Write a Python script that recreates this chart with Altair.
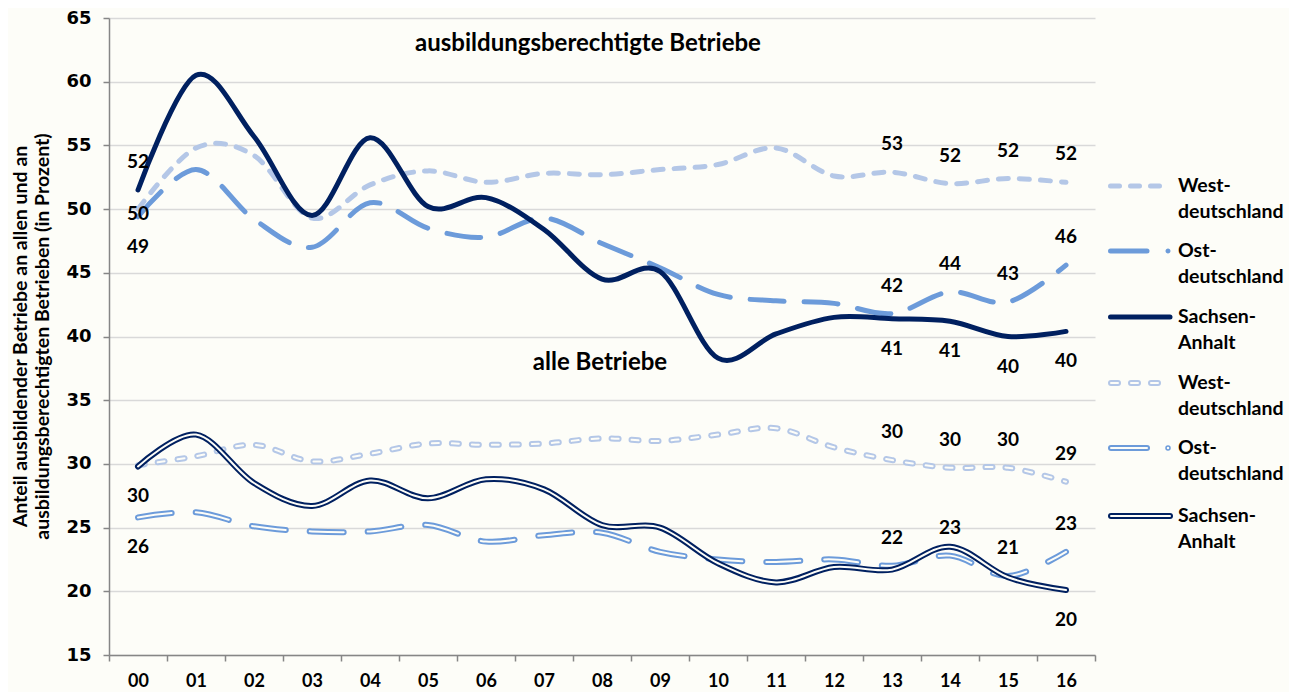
import altair as alt
import pandas as pd

years = ["00", "01", "02", "03", "04", "05", "06", "07", "08", "09",
         "10", "11", "12", "13", "14", "15", "16"]

# ausbildungsberechtigte Betriebe
west_ber = [50.0, 54.8, 54.2, 49.3, 51.9, 53.0, 52.1, 52.8, 52.7, 53.1,
            53.5, 54.8, 52.6, 52.9, 52.0, 52.4, 52.1]
ost_ber = [49.4, 53.1, 49.2, 47.0, 50.5, 48.5, 47.8, 49.3, 47.3, 45.4,
           43.3, 42.8, 42.6, 41.8, 43.5, 42.7, 45.6]
sa_ber = [51.5, 60.5, 55.7, 49.5, 55.6, 50.2, 50.9, 48.4, 44.5, 45.1,
          38.3, 40.2, 41.5, 41.4, 41.2, 40.0, 40.4]

# alle Betriebe
west_alle = [29.9, 30.6, 31.5, 30.2, 30.8, 31.6, 31.5, 31.6, 32.0, 31.8,
             32.3, 32.8, 31.3, 30.3, 29.7, 29.7, 28.6]
ost_alle = [25.8, 26.2, 25.1, 24.7, 24.7, 25.2, 23.9, 24.4, 24.6, 23.1,
            22.5, 22.3, 22.5, 22.0, 22.8, 21.2, 23.1]
sa_alle = [29.8, 32.3, 28.5, 26.7, 28.7, 27.3, 28.8, 28.0, 25.2, 25.0,
           22.2, 20.7, 21.9, 21.7, 23.5, 21.1, 20.1]

series = {
    "West_ber": west_ber, "Ost_ber": ost_ber, "SA_ber": sa_ber,
    "West_alle": west_alle, "Ost_alle": ost_alle, "SA_alle": sa_alle,
}

# which data points carry a value label, and where (above / below / mid)
label_spec = [
    ("SA_ber", ["00"], "above"),
    ("West_ber", ["00"], "mid"),
    ("Ost_ber", ["00"], "below"),
    ("West_ber", ["13", "14", "15", "16"], "above"),
    ("Ost_ber", ["13", "14", "15", "16"], "above"),
    ("SA_ber", ["13", "14", "15", "16"], "below"),
    ("SA_alle", ["00", "16"], "below"),
    ("Ost_alle", ["00"], "below"),
    ("West_alle", ["13", "14", "15", "16"], "above"),
    ("Ost_alle", ["13", "14", "15", "16"], "above"),
]

legend_labels = [
    ("West-", "deutschland"), ("Ost-", "deutschland"), ("Sachsen-", "Anhalt"),
    ("West-", "deutschland"), ("Ost-", "deutschland"), ("Sachsen-", "Anhalt"),
]

rows = []
for name, vals in series.items():
    for y, v in zip(years, vals):
        rows.append({"series": name, "year": y, "value": v})
df = pd.DataFrame(rows)

lab_rows = []
for name, yrs, pos in label_spec:
    vals = dict(zip(years, series[name]))
    for y in yrs:
        lab_rows.append({"series": name, "year": y, "value": vals[y],
                         "text": str(int(vals[y] + 0.5)), "pos": pos})
labels = pd.DataFrame(lab_rows)

BG = "#FDFDF8"
C_WEST = "#B4C7E7"
C_OST = "#6C9BDA"
C_SA = "#002060"
GRAY = "#868686"

W, H = 986, 637

x_enc = alt.X(
    "year:O", bandPosition=0.5,
    scale=alt.Scale(type="band", paddingInner=0, paddingOuter=0, domain=years),
    axis=alt.Axis(title=None, tickBand="extent", labelAngle=0, grid=False,
                  domainColor=GRAY, domainWidth=1.5, tickColor=GRAY, tickWidth=1.5,
                  tickSize=6, labelFont="Lato", labelFontWeight="bold",
                  labelFontSize=18, labelColor="black", labelPadding=11),
)
y_enc = alt.Y(
    "value:Q",
    scale=alt.Scale(domain=[15, 65], nice=False, zero=False),
    axis=alt.Axis(values=list(range(15, 66, 5)), grid=True, gridColor="#D9D9D9",
                  gridWidth=1.5, domainColor=GRAY, domainWidth=1.5, tickColor=GRAY,
                  tickWidth=1.5, tickSize=6, labelFont="DejaVu Sans",
                  labelFontWeight="bold", labelFontSize=18, labelColor="black",
                  labelPadding=12,
                  title=["Anteil ausbildender Betriebe an allen und an",
                         "ausbildungsberechtigten  Betrieben (in Prozent)"],
                  titleFont="Lato", titleFontWeight="bold", titleFontSize=19.5,
                  titleColor="black", titleAngle=270, titleAlign="center",
                  titleBaseline="top", titleX=-98, titleY=318, titleLineHeight=22),
)


def line(name, color, width, dash=None):
    kw = dict(color=color, strokeWidth=width, interpolate="cardinal", tension=0,
              strokeCap="round", strokeJoin="round")
    if dash:
        kw["strokeDash"] = dash
    return (alt.Chart(df).transform_filter(alt.datum.series == name)
            .mark_line(**kw).encode(x=x_enc, y=y_enc))


def double(name, color, dash=None):
    return [line(name, color, 6, dash), line(name, BG, 2, dash)]


layers = []
layers += double("West_alle", C_WEST, [7, 13])
layers += double("Ost_alle", C_OST, [34, 24])
layers += double("SA_alle", C_SA)
layers.append(line("West_ber", C_WEST, 5, [10, 11]))
layers.append(line("Ost_ber", C_OST, 5, [34, 20]))
layers.append(line("SA_ber", C_SA, 5))

for pos, dy in [("above", -28), ("below", 30), ("mid", 5)]:
    layers.append(
        alt.Chart(labels).transform_filter(alt.datum.pos == pos)
        .mark_text(font="Lato", fontWeight="bold", fontSize=19, color="black",
                   dy=dy, baseline="middle", align="center")
        .encode(x=x_enc, y=y_enc, text="text:N")
    )

# group annotations
def ptext(txt, x, y, size=21, align="center"):
    return (alt.Chart(pd.DataFrame({"t": [txt]}))
            .mark_text(font="Lato", fontWeight="bold", fontSize=size, color="black",
                       align=align, baseline="middle")
            .encode(x=alt.value(x), y=alt.value(y), text="t:N"))

layers.append(ptext("ausbildungsberechtigte Betriebe", 479, 26, size=24))
layers.append(ptext("alle Betriebe", 491, 345, size=24))

# legend
TX = 1069
entry_y = [168, 233, 299, 365, 430, 498]


def rule(x0, x1, y, color, width, dash=None):
    kw = dict(color=color, strokeWidth=width, strokeCap="round")
    if dash:
        kw["strokeDash"] = dash
    return (alt.Chart(pd.DataFrame({"a": [0]})).mark_rule(**kw)
            .encode(x=alt.value(x0), x2=alt.value(x1), y=alt.value(y)))


def dot(x, y, color, fill, size):
    return (alt.Chart(pd.DataFrame({"a": [0]}))
            .mark_point(shape="circle", filled=True, fill=fill, stroke=color,
                        strokeWidth=1.5, size=size, opacity=1)
            .encode(x=alt.value(x), y=alt.value(y)))


y0, y1, y2, y3, y4, y5 = entry_y
layers.append(rule(1001.5, 1055, y0, C_WEST, 5, [9, 11]))
layers.append(rule(1001.5, 1038, y1, C_OST, 5))
layers.append(dot(1059, y1, C_OST, C_OST, 12))
layers.append(rule(1001.5, 1061, y2, C_SA, 5))
layers.append(rule(1002, 1055, y3, C_WEST, 6, [7, 13]))
layers.append(rule(1002, 1055, y3, BG, 2, [7, 13]))
layers.append(rule(1002, 1038, y4, C_OST, 6))
layers.append(rule(1002, 1038, y4, BG, 2))
layers.append(dot(1059, y4, C_OST, BG, 16))
layers.append(rule(1002, 1061, y5, C_SA, 6))
layers.append(rule(1002, 1061, y5, BG, 2))

for (l1, l2), ey in zip(legend_labels, entry_y):
    layers.append(ptext(l1, TX, ey, size=19.5, align="left"))
    layers.append(ptext(l2, TX, ey + 26, size=19.5, align="left"))

chart = alt.layer(*layers).properties(
    width=W, height=H, background=BG,
    padding={"left": 101, "top": 10, "right": 194, "bottom": 37},
    autosize=alt.AutoSizeParams(type="none"),
).configure_view(stroke=None)

chart.save("out.html", embed_options={"renderer": "svg", "actions": False})
